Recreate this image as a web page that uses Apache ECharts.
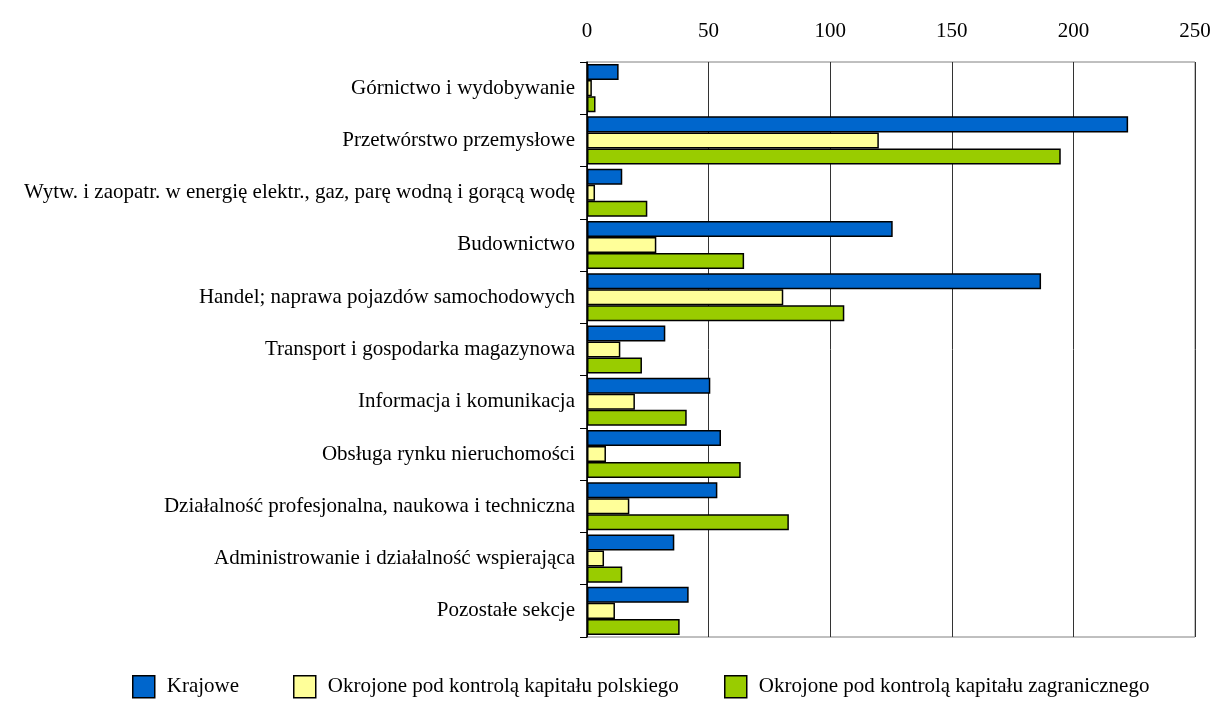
<!DOCTYPE html>
<html>
<head>
<meta charset="utf-8">
<script src="https://cdn.jsdelivr.net/npm/echarts@6/dist/echarts.min.js"></script>
<style>
  html, body { margin: 0; padding: 0; background: #fff; }
  #chart { width: 1214px; height: 702px; }
</style>
</head>
<body>
<div id="chart"></div>
<script>
// sekcje PKD
const categories = [
  'Górnictwo i wydobywanie',
  'Przetwórstwo przemysłowe',
  'Wytw. i zaopatr. w energię elektr., gaz, parę wodną i gorącą wodę',
  'Budownictwo',
  'Handel; naprawa pojazdów samochodowych',
  'Transport i gospodarka magazynowa',
  'Informacja i komunikacja',
  'Obsługa rynku nieruchomości',
  'Działalność profesjonalna, naukowa i techniczna',
  'Administrowanie i działalność wspierająca',
  'Pozostałe sekcje'
];
const krajowe = [13, 222.5, 14.5, 125.7, 186.7, 32.2, 50.7, 55.1, 53.6, 35.9, 41.8];
const polskie = [2, 120, 3.3, 28.5, 80.7, 13.7, 19.7, 7.8, 17.4, 7, 11.5];
const zagraniczne = [3.5, 194.8, 24.8, 64.6, 105.8, 22.6, 41, 63.2, 83, 14.5, 38.1];
const seriesNames = [
  'Krajowe',
  'Okrojone pod kontrolą kapitału polskiego',
  'Okrojone pod kontrolą kapitału zagranicznego'
];
const xTicks = [0, 50, 100, 150, 200, 250];

const font = '"Liberation Serif", "Times New Roman", serif';
const colors = ['#0066CC', '#FFFF99', '#99CC00'];

const myChart = echarts.init(document.getElementById('chart'));

// każda pozycja legendy osobno, żeby trzymać odstępy z oryginału
const legendItem = (name, left) => ({
  data: [{ name: name, icon: 'rect', itemStyle: { borderColor: '#000', borderWidth: 1.5 } }],
  left: left,
  top: 670,
  itemWidth: 22,
  itemHeight: 22,
  itemGap: 0,
  textStyle: { fontFamily: font, fontSize: 21, color: '#000', padding: [0, 0, 0, 7] },
  selectedMode: false
});

const barSeries = (name, data, color) => ({
  name: name,
  type: 'bar',
  data: data,
  barGap: '0%',
  barCategoryGap: '8%',
  itemStyle: { color: color, borderColor: '#000', borderWidth: 1.5 }
});

const option = {
  animation: false,
  grid: {
    left: 587,
    right: 19,
    top: 62,
    bottom: 65,
    show: true,
    borderColor: '#808080',
    borderWidth: 1
  },
  legend: [
    legendItem(seriesNames[0], 127),
    legendItem(seriesNames[1], 288),
    legendItem(seriesNames[2], 719)
  ],
  xAxis: {
    type: 'value',
    position: 'top',
    min: xTicks[0],
    max: xTicks[xTicks.length - 1],
    interval: 50,
    axisLine: { show: false },
    axisTick: { show: false },
    axisLabel: { fontFamily: font, fontSize: 21, color: '#000', margin: 20 },
    splitLine: { lineStyle: { color: '#333', width: 1 } }
  },
  yAxis: {
    type: 'category',
    inverse: true,
    data: categories,
    axisLine: { show: true, lineStyle: { color: '#000', width: 1.5 } },
    axisTick: { show: true, length: 7, lineStyle: { color: '#000' } },
    axisLabel: { fontFamily: font, fontSize: 21, color: '#000', margin: 12 }
  },
  series: [
    barSeries(seriesNames[0], krajowe, colors[0]),
    barSeries(seriesNames[1], polskie, colors[1]),
    barSeries(seriesNames[2], zagraniczne, colors[2])
  ]
};
myChart.setOption(option);
</script>
</body>
</html>
